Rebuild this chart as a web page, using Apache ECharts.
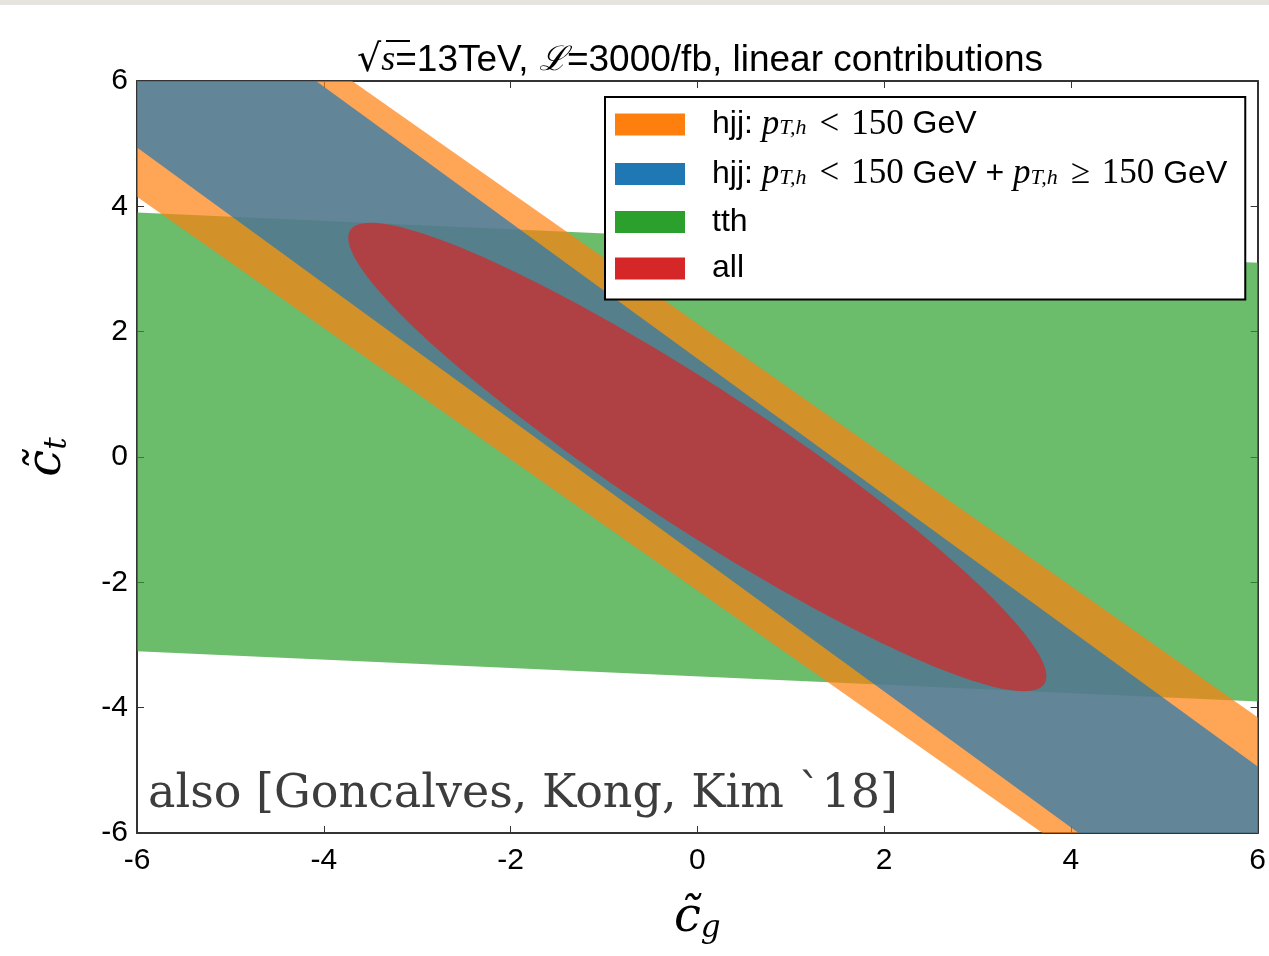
<!DOCTYPE html>
<html>
<head>
<meta charset="utf-8">
<script src="https://cdn.jsdelivr.net/npm/echarts@6/dist/echarts.min.js"></script>
<style>
  html, body { margin: 0; padding: 0; background: #ffffff; }
  #chart { width: 1269px; height: 956px; }
</style>
</head>
<body>
<div id="chart"></div>
<script>
// Axis range and ticks (same for both couplings)
const axisMin = -6;
const axisMax = 6;
const axisStep = 2;

// Allowed regions in the (c_g, c_t) plane.
// Straight bands: [slope, lower intercept, upper intercept]  ->  lower <= c_t - slope*c_g <= upper
const hjjLowBand = [-1.047, -2.13, 2.13];   // hjj, pT,h < 150 GeV
const hjjAllBand = [-1.085, -1.57, 1.57];   // hjj, both pT,h bins
const tthBand = [-0.0667, -3.5, 3.5];       // tth
// Combined region: [centre c_g, centre c_t, semi-major, semi-minor, rotation in degrees]
const allEllipse = [0, 0, 5.2, 0.95, -45];

// Series names and colours
const seriesNames = ['hjjLow', 'hjjAll', 'tth', 'all'];
const seriesColors = ['#ff7f0e', '#1f77b4', '#2ca02c', '#d62728'];

// Bands are built a bit wider than the axis range and clipped to the plot
const bandReach = [-9, 9];

function bandPolygon(band) {
  const [k, lo, hi] = band;
  const [x0, x1] = bandReach;
  return [[x0, k * x0 + lo], [x1, k * x1 + lo], [x1, k * x1 + hi], [x0, k * x0 + hi]];
}

function ellipsePolygon(e) {
  const [cx, cy, a, b, deg] = e;
  const th = deg * Math.PI / 180;
  const pts = [];
  const n = 180;
  for (let i = 0; i < n; i++) {
    const t = 2 * Math.PI * i / n;
    const u = a * Math.cos(t), v = b * Math.sin(t);
    pts.push([cx + u * Math.cos(th) - v * Math.sin(th), cy + u * Math.sin(th) + v * Math.cos(th)]);
  }
  return pts;
}

function regionSeries(name, color, pts) {
  return {
    name: name,
    type: 'custom',
    coordinateSystem: 'cartesian2d',
    clip: true,
    silent: true,
    itemStyle: { color: color },
    data: pts,
    renderItem: function (params, api) {
      if (params.dataIndex !== 0) return null;
      return {
        type: 'polygon',
        shape: { points: pts.map(function (p) { return api.coord(p); }) },
        style: { fill: color, opacity: 0.7 }
      };
    }
  };
}

const chart = echarts.init(document.getElementById('chart'), null, { renderer: 'canvas' });

const frameColor = '#333333';
const sans = 'Liberation Sans';
const serif = 'Liberation Serif';

function axisBase(extra) {
  return Object.assign({
    type: 'value',
    min: axisMin,
    max: axisMax,
    interval: axisStep,
    splitLine: { show: false },
    axisLine: { show: true, onZero: false, lineStyle: { color: frameColor, width: 2 } },
    axisTick: { show: true, inside: true, length: 7, lineStyle: { color: frameColor, width: 1 } },
    axisLabel: { show: false }
  }, extra);
}

const legendText = {
  hjjLow: '{h|hjj: }{m|p}{s|T,h}{o|<}{r|150}{t| GeV}',
  hjjAll: '{h|hjj: }{m|p}{s|T,h}{o|<}{r|150}{t| GeV + }{m|p}{s|T,h}{o|≥}{r|150}{t| GeV}',
  tth: '{h|tth}',
  all: '{h|all}'
};

const option = {
  backgroundColor: '#ffffff',
  animation: false,
  title: {
    left: 352,
    top: 36,
    text: '{q|√}{v|s}{t|=13TeV, }{l|ℒ}{t|=3000/fb, linear contributions}',
    textStyle: {
      fontWeight: 'normal',
      rich: {
        q: { fontFamily: 'DejaVu Sans', fontWeight: 'normal', fontSize: 38, color: '#000', lineHeight: 40 },
        v: { fontFamily: serif, fontStyle: 'italic', fontWeight: 'normal', fontSize: 36, color: '#000', lineHeight: 40 },
        t: { fontFamily: sans, fontWeight: 'normal', fontSize: 37, color: '#000', lineHeight: 40 },
        l: { fontFamily: 'DejaVu Serif', fontStyle: 'italic', fontWeight: 'normal', fontSize: 34, color: '#000', lineHeight: 40 }
      }
    }
  },
  grid: { left: 137, right: 8, top: 81, bottom: 123, containLabel: false },
  xAxis: [
    axisBase({
      position: 'bottom',
      axisLabel: { show: true, fontFamily: sans, fontSize: 30, color: '#000', margin: 13 },
      name: '{c|c\u0303}{s|g}',
      nameLocation: 'middle',
      nameGap: 60,
      nameTextStyle: {
        rich: {
          c: { fontFamily: 'DejaVu Serif', fontStyle: 'italic', fontSize: 48, color: '#000' },
          s: { fontFamily: 'DejaVu Serif', fontStyle: 'italic', fontSize: 31, color: '#000', verticalAlign: 'bottom', padding: [20, 0, 0, 0] }
        }
      }
    }),
    axisBase({ position: 'top' })
  ],
  yAxis: [
    axisBase({
      position: 'left',
      axisLabel: { show: true, fontFamily: sans, fontSize: 30, color: '#000', margin: 9 },
      name: '{c|c\u0303}{s|t}',
      nameLocation: 'middle',
      nameRotate: 90,
      nameGap: 64,
      nameTextStyle: {
        rich: {
          c: { fontFamily: 'DejaVu Serif', fontStyle: 'italic', fontSize: 48, color: '#000' },
          s: { fontFamily: 'DejaVu Serif', fontStyle: 'italic', fontSize: 31, color: '#000', verticalAlign: 'bottom', padding: [20, 0, 0, 0] }
        }
      }
    }),
    axisBase({ position: 'right' })
  ],
  legend: {
    orient: 'vertical',
    left: 605,
    top: 97,
    padding: [10, 18, 15, 10],
    itemGap: 14.5,
    itemWidth: 70,
    itemHeight: 22,
    backgroundColor: '#ffffff',
    borderColor: '#000000',
    borderWidth: 2,
    borderRadius: 0,
    z: 10,
    selectedMode: false,
    data: seriesNames.map(function (n, i) {
      return { name: n, icon: 'rect', itemStyle: { color: seriesColors[i], opacity: 1, borderWidth: 0 } };
    }),
    formatter: function (name) { return legendText[name]; },
    textStyle: {
      rich: {
        h: { fontFamily: sans, fontSize: 32, color: '#000', lineHeight: 30, padding: [0, 0, 0, 22] },
        t: { fontFamily: sans, fontSize: 32, color: '#000', lineHeight: 30 },
        m: { fontFamily: serif, fontStyle: 'italic', fontSize: 35, color: '#000', lineHeight: 30 },
        s: { fontFamily: serif, fontStyle: 'italic', fontSize: 22, color: '#000', lineHeight: 30, verticalAlign: 'bottom' },
        o: { fontFamily: serif, fontSize: 35, color: '#000', lineHeight: 30, padding: [0, 12, 0, 13] },
        r: { fontFamily: serif, fontSize: 35, color: '#000', lineHeight: 30 }
      }
    }
  },
  graphic: [
    { type: 'rect', left: 0, top: 0, shape: { width: 1269, height: 5 }, style: { fill: '#e7e3de' }, z: 100 },
    { type: 'line', shape: { x1: 386, y1: 41, x2: 410, y2: 41 }, style: { stroke: '#000', lineWidth: 2 }, z: 20 },
    {
      type: 'text', left: 148, top: 772, z: 20,
      style: { text: 'also [Goncalves, Kong, Kim `18]', fontFamily: 'DejaVu Serif', fontSize: 46, fill: '#3d3d3d' }
    }
  ],
  series: [
    regionSeries('tth', seriesColors[2], bandPolygon(tthBand)),
    regionSeries('hjjLow', seriesColors[0], bandPolygon(hjjLowBand)),
    regionSeries('hjjAll', seriesColors[1], bandPolygon(hjjAllBand)),
    regionSeries('all', seriesColors[3], ellipsePolygon(allEllipse))
  ]
};

chart.setOption(option);
</script>
</body>
</html>
